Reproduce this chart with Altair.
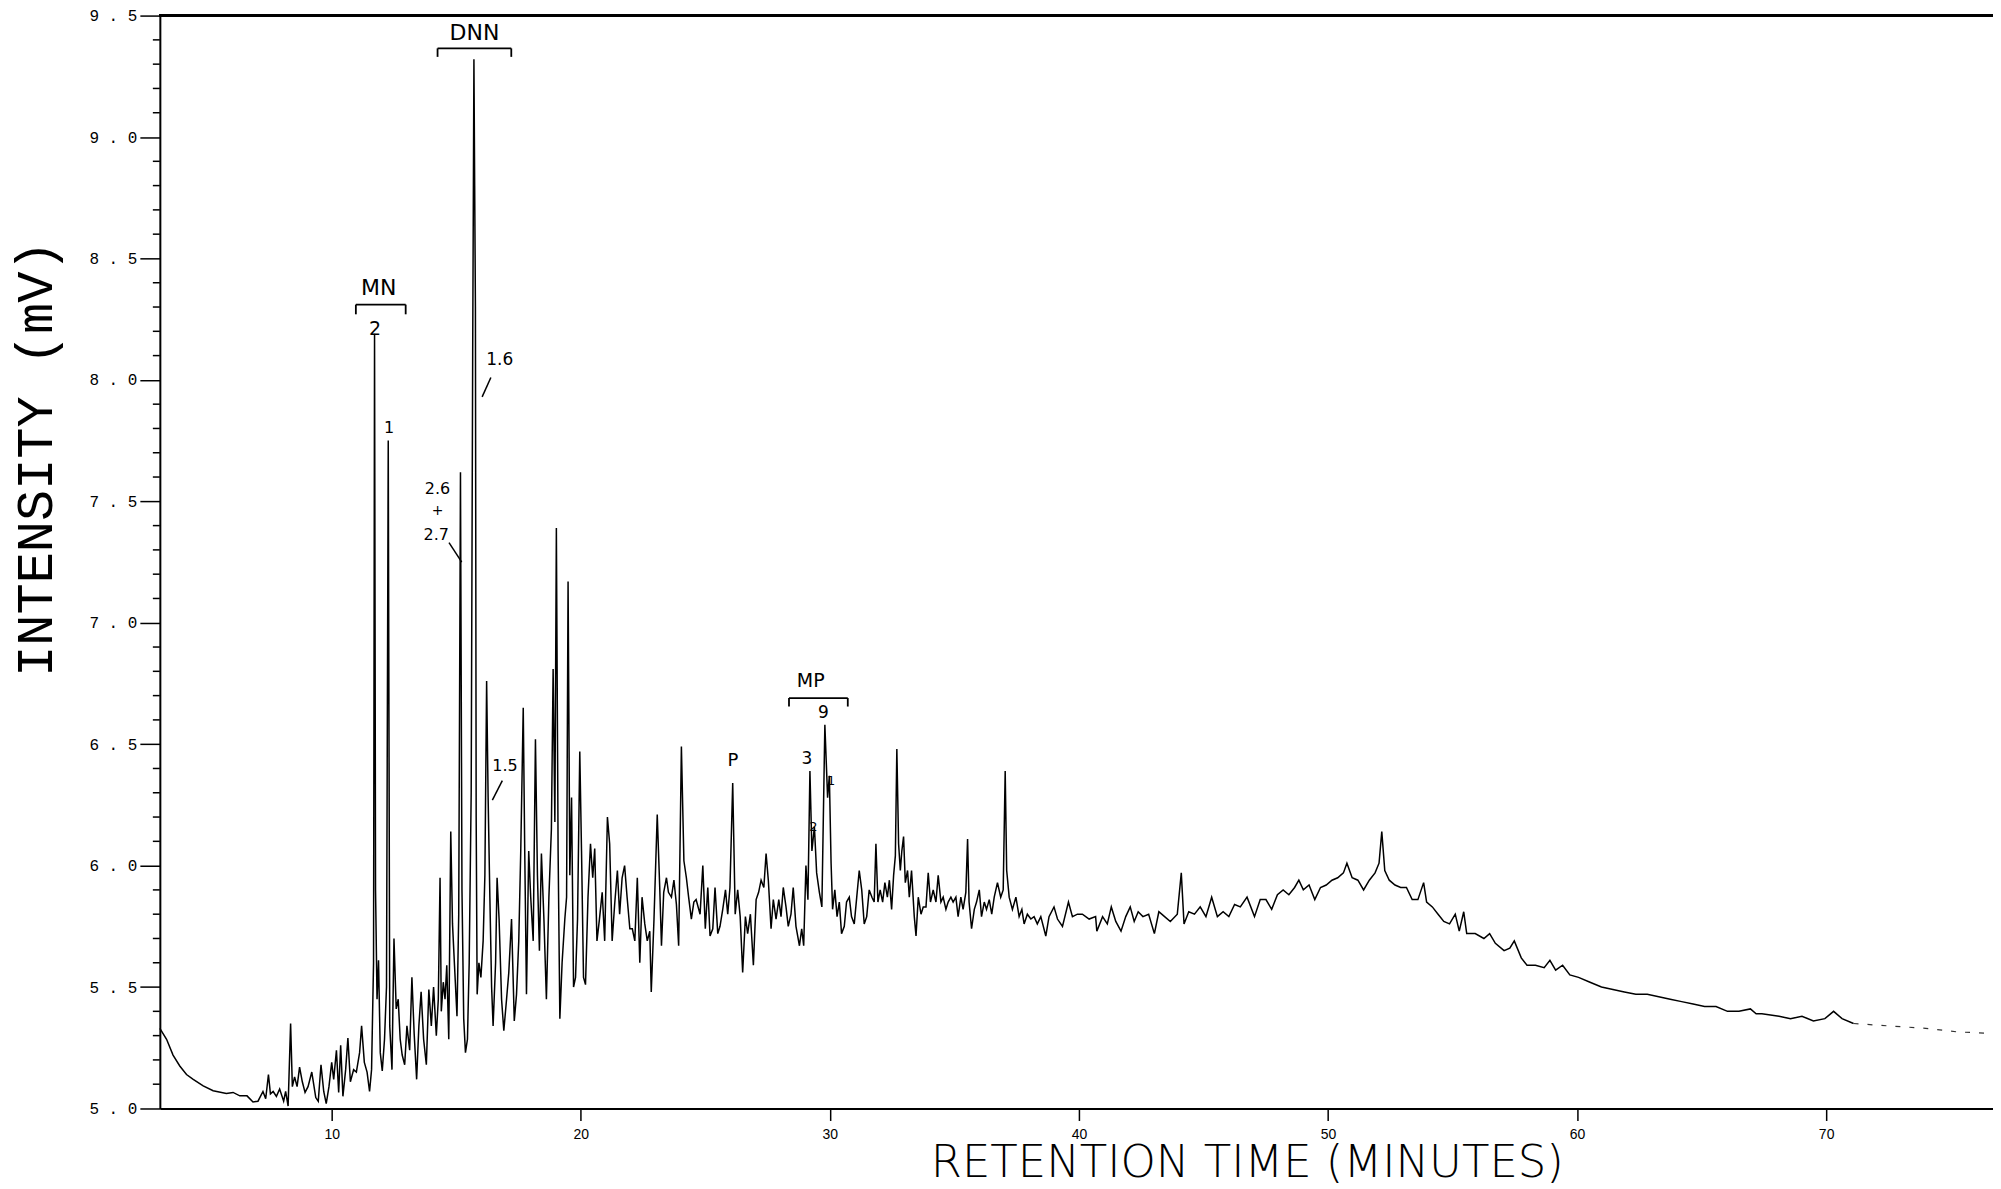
import altair as alt
import pandas as pd

# ---- chromatogram trace (retention time in minutes, intensity in mV) ----
time_min = [
    3.1, 3.37, 3.63, 3.9, 4.17, 4.44, 4.84, 5.24, 5.77, 6.04, 6.31, 6.6, 6.84, 7.04, 7.24, 7.35,
    7.46, 7.54, 7.65, 7.78, 7.91, 8.07, 8.15, 8.25, 8.35, 8.42, 8.51, 8.61, 8.71, 8.82, 8.93, 9.05,
    9.2, 9.36, 9.46, 9.57, 9.68, 9.78, 9.89, 10.0, 10.08, 10.19, 10.28, 10.36, 10.45, 10.56, 10.65,
    10.75, 10.88, 10.99, 11.12, 11.2, 11.31, 11.42, 11.52, 11.6,
    11.68, 11.72, 11.76, 11.82, 11.88, 11.95, 12.03, 12.12, 12.2, 12.27, 12.33, 12.42, 12.5, 12.59,
    12.67, 12.75, 12.83, 12.93, 13.02, 13.13, 13.22, 13.31, 13.41, 13.5, 13.59, 13.69, 13.8, 13.9,
    14.0, 14.09, 14.2, 14.28, 14.35, 14.4, 14.48, 14.55, 14.62, 14.7, 14.78, 14.85, 14.93, 15.03,
    15.1, 15.17, 15.23, 15.3, 15.37, 15.45, 15.52, 15.6, 15.66, 15.71, 15.74, 15.77, 15.8, 15.84,
    15.91, 15.99, 16.08, 16.15, 16.22, 16.28, 16.35, 16.42, 16.48, 16.58, 16.64, 16.72, 16.82, 16.91,
    17.02, 17.11, 17.22, 17.33, 17.42, 17.51, 17.59, 17.69, 17.75, 17.82, 17.91, 17.99, 18.09, 18.18,
    18.26, 18.34, 18.42, 18.52, 18.62, 18.72, 18.82, 18.89, 18.96, 19.02, 19.09, 19.16, 19.25, 19.36,
    19.43, 19.49, 19.56, 19.63, 19.71, 19.79, 19.87, 19.96, 20.03, 20.11, 20.19, 20.29, 20.39, 20.48,
    20.56, 20.65, 20.75, 20.86, 20.96, 21.07, 21.16, 21.26, 21.36, 21.47, 21.56, 21.66, 21.76, 21.86,
    21.97, 22.07, 22.17, 22.27, 22.37, 22.46, 22.57, 22.67, 22.77, 22.83, 22.94, 23.07, 23.17, 23.24,
    23.33, 23.44, 23.52, 23.64, 23.74, 23.84, 23.93, 24.04, 24.14, 24.24, 24.33, 24.44, 24.54,
    24.63, 24.79, 24.9, 25.0, 25.1, 25.19, 25.3, 25.39, 25.5, 25.59, 25.7, 25.81, 25.9, 25.99, 26.1,
    26.2, 26.3, 26.4, 26.5, 26.61, 26.7, 26.81, 26.93, 27.04, 27.14, 27.24, 27.35, 27.44, 27.53,
    27.64, 27.73, 27.84, 27.95, 28.04, 28.13, 28.24, 28.33, 28.44, 28.53, 28.64, 28.78, 28.87, 28.95,
    29.04, 29.12, 29.2, 29.28, 29.38, 29.47, 29.58, 29.68, 29.8,
    29.91, 29.98, 30.05, 30.11, 30.2, 30.29, 30.38, 30.47, 30.58, 30.67, 30.78, 30.87, 30.98, 31.08,
    31.18, 31.28, 31.38, 31.48, 31.58, 31.69, 31.78, 31.85, 31.93, 32.02, 32.12, 32.21, 32.31, 32.39,
    32.48, 32.56, 32.63, 32.69, 32.76, 32.83, 32.89, 32.96, 33.03, 33.12, 33.19, 33.28, 33.39, 33.46,
    33.55, 33.66, 33.75, 33.86, 33.95, 34.04, 34.15, 34.26, 34.35, 34.46, 34.55, 34.66, 34.75, 34.86,
    34.95, 35.06, 35.15, 35.26, 35.35, 35.46, 35.53, 35.59, 35.69, 35.8, 35.89, 36.0, 36.09, 36.2,
    36.29, 36.4, 36.5, 36.6, 36.73, 36.86, 36.96, 37.04, 37.1, 37.2, 37.33, 37.47, 37.6, 37.71, 37.8,
    37.93, 38.07, 38.2, 38.33, 38.47, 38.67, 38.8, 39.0, 39.14, 39.34, 39.58, 39.74, 39.94, 40.14,
    40.41, 40.67,
    40.72, 40.95, 41.14, 41.3, 41.48, 41.69, 41.88, 42.06, 42.22, 42.38, 42.57, 42.8, 43.03, 43.21,
    43.44, 43.67, 43.95, 44.11, 44.22, 44.41, 44.64, 44.87, 45.1, 45.33, 45.56, 45.79, 46.02, 46.25,
    46.48, 46.75, 47.05, 47.28, 47.51, 47.74, 47.97, 48.2, 48.43, 48.66, 48.83, 49.01, 49.24, 49.47,
    49.7, 49.93, 50.16, 50.39, 50.62, 50.76, 50.97, 51.2, 51.43, 51.66, 51.89, 52.05, 52.16, 52.28,
    52.46, 52.69, 52.92, 53.15, 53.38, 53.61, 53.84, 53.96, 54.19, 54.42, 54.65, 54.88, 55.11, 55.27,
    55.45, 55.57, 55.91, 56.26, 56.49, 56.72, 57.07, 57.3, 57.48, 57.76, 57.99, 58.33, 58.68, 58.91,
    59.14, 59.42, 59.71, 60.06, 60.52, 60.98, 61.44, 61.9, 62.36, 62.82, 63.28, 63.74, 64.2, 64.66,
    65.12, 65.58, 66.04, 66.5, 66.96, 67.19, 67.42, 68.11, 68.57, 69.03, 69.49, 69.95, 70.3, 70.64,
    71.1,
]
intensity_mv = [
    5.33, 5.285, 5.22, 5.175, 5.14, 5.12, 5.093, 5.073, 5.062, 5.066, 5.052, 5.052, 5.027, 5.03, 5.07, 5.04,
    5.14, 5.06, 5.07, 5.05, 5.08, 5.03, 5.07, 5.01, 5.35, 5.09, 5.13, 5.09, 5.17, 5.11, 5.066, 5.09,
    5.15, 5.045, 5.03, 5.18, 5.07, 5.02, 5.09, 5.19, 5.12, 5.24, 5.066, 5.26, 5.05, 5.16, 5.29,
    5.11, 5.16, 5.15, 5.23, 5.34, 5.19, 5.15, 5.07, 5.16,
    5.6, 8.19, 5.9, 5.45, 5.61, 5.23, 5.155, 5.285, 5.5, 7.75, 5.34, 5.16, 5.70, 5.41,
    5.45, 5.285, 5.22, 5.18, 5.34, 5.24, 5.54, 5.31, 5.12, 5.34, 5.48, 5.285, 5.18, 5.49,
    5.34, 5.50, 5.30, 5.45, 5.95, 5.40, 5.52, 5.45, 5.59, 5.285, 6.14, 5.76, 5.59, 5.38,
    5.8, 7.62, 5.9, 5.37, 5.23, 5.285, 5.6, 6.3, 8.1, 9.32, 8.8, 8.3, 6.2, 5.47,
    5.60, 5.54, 5.69, 5.96, 6.76, 6.28, 5.87, 5.50, 5.34, 5.60, 5.95, 5.78, 5.45, 5.32,
    5.45, 5.56, 5.78, 5.36, 5.47, 5.69, 6.06, 6.65, 6.06, 5.47, 6.06, 5.87, 5.69, 6.52,
    5.96, 5.65, 6.05, 5.78, 5.45, 5.87, 6.15, 6.81, 6.18, 7.39, 6.06, 5.37, 5.60, 5.78,
    5.87, 7.17, 5.96, 6.28, 5.50, 5.54, 5.78, 6.47, 6.06, 5.54, 5.51, 5.87, 6.09, 5.95,
    6.07, 5.69, 5.78, 5.89, 5.69, 6.20, 6.09, 5.69, 5.84, 5.98, 5.80, 5.95, 6.00, 5.87,
    5.74, 5.74, 5.69, 5.95, 5.60, 5.87, 5.76, 5.69, 5.73, 5.48, 5.78, 6.21, 5.91, 5.67,
    5.89, 5.95, 5.89, 5.87, 5.94, 5.84, 5.67, 6.49, 6.02, 5.95, 5.87, 5.78, 5.85,
    5.86, 5.80, 6.0, 5.74, 5.91, 5.71, 5.74, 5.91, 5.72, 5.75, 5.82, 5.90, 5.80, 5.91, 6.34,
    5.80, 5.90, 5.79, 5.56, 5.79, 5.72, 5.80, 5.59, 5.86, 5.89, 5.94, 5.91, 6.05, 5.94,
    5.74, 5.86, 5.78, 5.86, 5.79, 5.91, 5.83, 5.75, 5.80, 5.91, 5.75, 5.67, 5.74, 5.67,
    6.0, 5.86, 6.39, 6.06, 6.16, 5.97, 5.89, 5.83, 6.58,
    6.28, 6.37, 6.01, 5.82, 5.90, 5.79, 5.85, 5.72, 5.75, 5.85, 5.87, 5.79, 5.76, 5.87,
    5.98, 5.90, 5.76, 5.79, 5.90, 5.87, 5.85, 6.09, 5.85, 5.90, 5.85, 5.93, 5.87, 5.94,
    5.82, 5.96, 6.04, 6.48, 6.09, 5.98, 6.06, 6.12, 5.93, 5.98, 5.87, 5.98, 5.79, 5.71,
    5.87, 5.80, 5.83, 5.83, 5.97, 5.85, 5.90, 5.85, 5.96, 5.85, 5.87, 5.82, 5.85, 5.87,
    5.85, 5.87, 5.79, 5.87, 5.82, 5.89, 6.11, 5.85, 5.74, 5.82, 5.85, 5.90, 5.79, 5.85,
    5.82, 5.86, 5.80, 5.87, 5.93, 5.87, 5.90, 6.39, 5.98, 5.87, 5.82, 5.87, 5.79, 5.82, 5.76,
    5.80, 5.78, 5.79, 5.76, 5.79, 5.71, 5.79, 5.83, 5.78, 5.75, 5.85, 5.79, 5.80, 5.80,
    5.78, 5.79,
    5.73, 5.79, 5.76, 5.83, 5.77, 5.73, 5.79, 5.83, 5.77, 5.81, 5.79, 5.80, 5.72, 5.81,
    5.79, 5.77, 5.80, 5.97, 5.76, 5.81, 5.80, 5.83, 5.79, 5.87, 5.79, 5.81, 5.79, 5.84,
    5.83, 5.87, 5.79, 5.86, 5.86, 5.82, 5.88, 5.90, 5.88, 5.91, 5.94, 5.90, 5.92, 5.86,
    5.91, 5.92, 5.94, 5.95, 5.97, 6.01, 5.95, 5.94, 5.90, 5.94, 5.97, 6.01, 6.14, 5.98,
    5.94, 5.92, 5.91, 5.91, 5.86, 5.86, 5.93, 5.85, 5.83, 5.80, 5.77, 5.76, 5.80, 5.73,
    5.81, 5.72, 5.72, 5.70, 5.72, 5.68, 5.65, 5.66, 5.69, 5.62, 5.59, 5.59, 5.58, 5.61,
    5.57, 5.59, 5.55, 5.54, 5.52, 5.50, 5.49, 5.48, 5.47, 5.47, 5.46, 5.45, 5.44, 5.43,
    5.42, 5.42, 5.40, 5.40, 5.41, 5.39, 5.39, 5.38, 5.37, 5.38, 5.36, 5.37, 5.40, 5.37,
    5.35,
]

# faint, broken end of the pen trace
tail_time = [71.1, 72.5, 74.0, 75.3, 76.5]
tail_mv = [5.35, 5.34, 5.33, 5.315, 5.31]

# axis ticks
x_ticks = [10, 20, 30, 40, 50, 60, 70]
y_major_ticks = [5.0, 5.5, 6.0, 6.5, 7.0, 7.5, 8.0, 8.5, 9.0, 9.5]
y_minor_ticks = [5.1, 5.2, 5.3, 5.4, 5.6, 5.7, 5.8, 5.9,
                 6.1, 6.2, 6.3, 6.4, 6.6, 6.7, 6.8, 6.9,
                 7.1, 7.2, 7.3, 7.4, 7.6, 7.7, 7.8, 7.9,
                 8.1, 8.2, 8.3, 8.4, 8.6, 8.7, 8.8, 8.9,
                 9.1, 9.2, 9.3, 9.4]

# hand-written annotations
note_text = ["MN", "2", "1", "DNN", "1.6", "2.6", "+", "2.7", "1.5", "P", "MP", "3", "9", "2", "1"]
note_t = [11.89, 11.74, 12.3, 15.73, 16.75, 14.25, 14.25, 14.2, 16.96, 26.11, 29.23, 29.08, 29.74, 29.34, 30.05]
note_v = [8.38, 8.21, 7.80, 9.43, 8.08, 7.55, 7.46, 7.36, 6.41, 6.43, 6.76, 6.44, 6.63, 6.16, 6.35]
note_size = [22, 19, 16, 22, 17, 16, 14, 16, 16, 18, 19, 17, 17, 13, 13]

bracket_t1 = [10.97, 14.25, 28.36]
bracket_t2 = [12.97, 17.21, 30.72]
bracket_v = [8.31, 9.365, 6.69]
bracket_end_v = [8.27, 9.33, 6.655]

leader_t1 = [16.39, 14.71, 16.85]
leader_v1 = [8.01, 7.33, 6.35]
leader_t2 = [16.04, 15.22, 16.45]
leader_v2 = [7.93, 7.25, 6.27]

# ---- tables ----
trace = pd.DataFrame({"t": time_min, "v": intensity_mv})
tail = pd.DataFrame({"t": tail_time, "v": tail_mv})
minor = pd.DataFrame({"v": y_minor_ticks})
notes = pd.DataFrame({"t": note_t, "v": note_v, "label": note_text, "size": note_size})
brackets = pd.DataFrame({"t1": bracket_t1, "t2": bracket_t2, "v": bracket_v})
bracket_ends = pd.DataFrame({
    "t": bracket_t1 + bracket_t2,
    "v1": bracket_v + bracket_v,
    "v2": bracket_end_v + bracket_end_v,
})
leaders = pd.DataFrame({"t1": leader_t1, "v1": leader_v1, "t2": leader_t2, "v2": leader_v2})

x_scale = alt.Scale(domain=[3.1, 76.7], nice=False, zero=False)
y_scale = alt.Scale(domain=[5.0, 9.5], nice=False, zero=False)

x_axis = alt.Axis(
    values=x_ticks, title="RETENTION TIME (MINUTES)", grid=False,
    domainColor="black", domainWidth=2, tickColor="black", tickWidth=1.5, tickSize=12,
    labelFont="Liberation Sans", labelFontSize=14, labelColor="black", labelPadding=7,
    labelFlush=False, labelOverlap=False,
    titleFont="DejaVu Sans", titleFontWeight=200, titleFontSize=45, titleColor="black",
    titleX=1088, titleY=54, titleAlign="center", titleBaseline="middle",
)
y_axis = alt.Axis(
    values=y_major_ticks, title="INTENSITY (mV)", grid=False,
    domainColor="black", domainWidth=2, tickColor="black", tickWidth=1.5, tickSize=20,
    labelExpr="replace(format(datum.value, '.1f'), '.', ' . ')",
    labelFont="Liberation Mono", labelFontSize=16, labelColor="black", labelPadding=3,
    labelFlush=False, labelOverlap=False,
    titleFont="Liberation Mono", titleFontWeight="normal", titleFontSize=52, titleColor="black",
    titleAngle=270, titleX=-124, titleY=443, titleAlign="center", titleBaseline="middle",
)

line = alt.Chart(trace).mark_line(color="black", strokeWidth=1.5, interpolate="linear").encode(
    x=alt.X("t:Q", scale=x_scale, axis=x_axis),
    y=alt.Y("v:Q", scale=y_scale, axis=y_axis),
)
tail_line = alt.Chart(tail).mark_line(color="black", strokeWidth=1.2, strokeDash=[5, 9], opacity=0.8).encode(
    x=alt.X("t:Q", scale=x_scale), y=alt.Y("v:Q", scale=y_scale)
)
minor_ticks = alt.Chart(minor).mark_rule(color="black", strokeWidth=1.5).encode(
    x=alt.value(-7), x2=alt.value(0), y=alt.Y("v:Q", scale=y_scale)
)
top_border = alt.Chart(trace).mark_rule(color="black", strokeWidth=2).encode(y=alt.datum(9.5))

bracket_h = alt.Chart(brackets).mark_rule(color="black", strokeWidth=1.8).encode(
    x=alt.X("t1:Q", scale=x_scale), x2="t2:Q", y=alt.Y("v:Q", scale=y_scale)
)
bracket_v_marks = alt.Chart(bracket_ends).mark_rule(color="black", strokeWidth=1.8).encode(
    x=alt.X("t:Q", scale=x_scale), y=alt.Y("v1:Q", scale=y_scale), y2="v2:Q"
)
leader_marks = alt.Chart(leaders).mark_rule(color="black", strokeWidth=1.5).encode(
    x=alt.X("t1:Q", scale=x_scale), x2="t2:Q", y=alt.Y("v1:Q", scale=y_scale), y2="v2:Q"
)
note_marks = alt.Chart(notes).mark_text(
    font="DejaVu Sans", color="black", align="center", baseline="middle"
).encode(
    x=alt.X("t:Q", scale=x_scale), y=alt.Y("v:Q", scale=y_scale),
    text="label:N", size=alt.Size("size:Q", scale=None, legend=None),
)

chart = alt.layer(
    line, tail_line, minor_ticks, top_border, bracket_h, bracket_v_marks, leader_marks, note_marks
).properties(
    width=1835, height=1094,
    autosize=alt.AutoSizeParams(type="none"),
    padding={"left": 152, "top": 7, "right": 0, "bottom": 78},
    background="white",
).configure_view(stroke=None, clip=False)

chart.save("out.html", embed_options={"renderer": "svg", "actions": False})
